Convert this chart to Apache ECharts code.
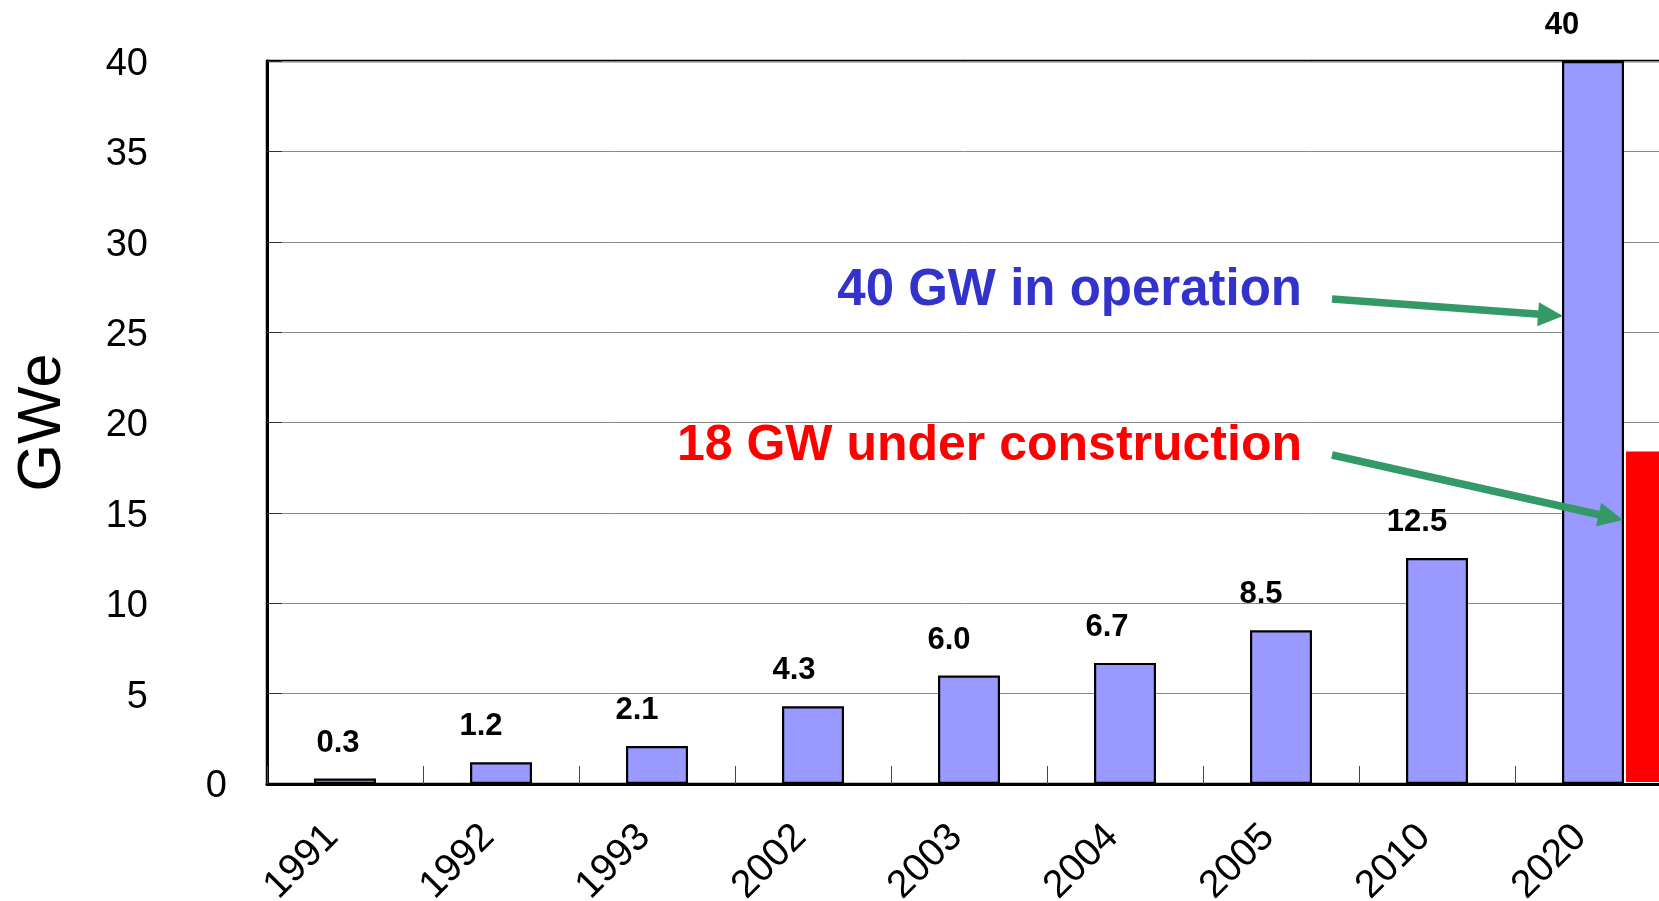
<!DOCTYPE html>
<html>
<head>
<meta charset="utf-8">
<script src="https://cdn.jsdelivr.net/npm/echarts@6/dist/echarts.min.js"></script>
<style>
html,body{margin:0;padding:0;background:#fff;}
#chart{width:1659px;height:901px;}
</style>
</head>
<body>
<div id="chart"></div>
<script>
// ---- data ----
const categories = ['1991','1992','1993','2002','2003','2004','2005','2010','2020'];
const inOperation = [0.3, 1.2, 2.1, 4.3, 6.0, 6.7, 8.5, 12.5, 40];
const valueLabels = ['0.3','1.2','2.1','4.3','6.0','6.7','8.5','12.5','40'];
const underConstruction = [null, null, null, null, null, null, null, null, 18.5];
const yTicks = {min: 0, max: 40, interval: 5};
const axisTitle = 'GWe';
const noteOperation = '40 GW in operation';
const noteConstruction = '18 GW under construction';

// ---- styles ----
const labelDx = [-7, -20, -20, -19, -20, -18, -20, -20, -31];
const FONT = '"Liberation Sans", Arial, sans-serif';

const chart = echarts.init(document.getElementById('chart'), null, {renderer: 'canvas'});

const blueData = inOperation.map((v, i) => ({
  value: v,
  label: {offset: [labelDx[i], 0]}
}));

function arrow(tail, tip) {
  const dx = tip[0] - tail[0], dy = tip[1] - tail[1];
  const L = Math.sqrt(dx*dx + dy*dy);
  const ux = dx / L, uy = dy / L;
  const hl = 25, hw = 12;
  const bx = tip[0] - hl*ux, by = tip[1] - hl*uy;
  const nx = -uy, ny = ux;
  return [
    {type: 'polyline', shape: {points: [tail, [bx + ux*2, by + uy*2]]},
     style: {stroke: '#339966', lineWidth: 7.5, fill: null}, z: 100},
    {type: 'polygon', shape: {points: [tip, [bx + hw*nx, by + hw*ny], [bx - hw*nx, by - hw*ny]]},
     style: {fill: '#339966'}, z: 100}
  ];
}

const option = {
  animation: false,
  backgroundColor: '#fff',
  grid: {
    left: 267, right: -12, top: 61, bottom: 117,
    containLabel: false, outerBoundsMode: 'none',
    show: true, borderColor: '#000', borderWidth: 2.5, backgroundColor: 'transparent'
  },
  xAxis: {
    type: 'category',
    data: categories,
    z: 5,
    axisLine: {show: true, lineStyle: {color: '#000', width: 3}},
    axisTick: {show: true, inside: true, length: 18, lineStyle: {color: '#444', width: 1}},
    axisLabel: {
      interval: 0, rotate: 45, margin: 47,
      fontFamily: FONT, fontSize: 39, color: '#000',
      formatter: v => '{x|' + v + '}',
      rich: {
        x: {fontFamily: FONT, fontSize: 39, color: '#000', padding: [0, 9, 18, 0]}
      }
    },
    splitLine: {show: false}
  },
  yAxis: {
    type: 'value',
    min: yTicks.min, max: yTicks.max, interval: yTicks.interval,
    name: axisTitle,
    nameLocation: 'middle',
    nameGap: 193,
    nameTextStyle: {fontFamily: FONT, fontSize: 61, color: '#000'},
    axisLine: {show: true, lineStyle: {color: '#000', width: 3}},
    axisTick: {show: true, inside: true, length: 15, lineStyle: {color: '#333', width: 1}},
    axisLabel: {
      margin: 40,
      fontFamily: FONT, fontSize: 38, color: '#000',
      formatter: v => v === 0 ? '{z|0}' : '{a|' + v + '}',
      rich: {
        z: {fontFamily: FONT, fontSize: 38, color: '#000', padding: [5, 0, 0, 0]},
        a: {fontFamily: FONT, fontSize: 38, color: '#000', padding: [7, 79, 0, 0]}
      }
    },
    splitLine: {show: true, lineStyle: {color: '#8a8a8a', width: 1}}
  },
  series: [
    {
      name: 'spacer', type: 'bar', barWidth: 62, barGap: '0%',
      data: categories.map(() => null), silent: true
    },
    {
      name: 'in operation', type: 'bar', barWidth: 62, barGap: '0%',
      data: blueData,
      itemStyle: {color: '#9999FF', borderColor: '#000', borderWidth: 2.2},
      label: {
        show: true, position: 'top', distance: 20,
        fontFamily: FONT, fontSize: 31, fontWeight: 'bold', color: '#000',
        formatter: p => valueLabels[p.dataIndex]
      }
    },
    {
      name: 'under construction', type: 'bar', barWidth: 62, barGap: '0%',
      data: underConstruction,
      itemStyle: {color: '#FF0000', borderColor: '#fff', borderWidth: 2}
    }
  ],
  graphic: [
    {type: 'text', right: 1659 - 1302, top: 265, z: 100,
     style: {text: noteOperation, fontFamily: FONT, fontSize: 51, fontWeight: 'bold', fill: '#3333CC'}},
    {type: 'text', right: 1659 - 1302, top: 421, z: 100,
     style: {text: noteConstruction, fontFamily: FONT, fontSize: 50, fontWeight: 'bold', fill: '#FF0000'}},
    ...arrow([1332, 299], [1563, 316]),
    ...arrow([1332, 455], [1623, 520])
  ]
};

chart.setOption(option);
</script>
</body>
</html>
